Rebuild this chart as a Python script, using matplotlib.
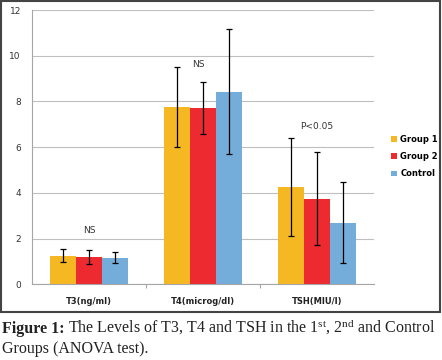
import numpy as np
import matplotlib.pyplot as plt
from matplotlib.patches import Rectangle

plt.rcParams['mathtext.fontset'] = 'custom'
plt.rcParams['mathtext.rm'] = 'Liberation Serif'
plt.rcParams['mathtext.it'] = 'Liberation Serif'

# Data
categories = ['T3(ng/ml)', 'T4(microg/dl)', 'TSH(MIU/l)']
groups = ['Group 1', 'Group 2', 'Control']
means = {
    'Group 1': [1.25, 7.75, 4.25],
    'Group 2': [1.20, 7.72, 3.75],
    'Control': [1.17, 8.42, 2.70],
}
errors = {
    'Group 1': [0.28, 1.75, 2.13],
    'Group 2': [0.30, 1.15, 2.05],
    'Control': [0.26, 2.73, 1.77],
}
sig_labels = ['NS', 'NS', 'P<0.05']
sig_y = [2.35, 9.6, 6.9]
colors = ['#F6B822', '#EC2A30', '#74ACDA']

fig = plt.figure(figsize=(4.42, 3.6), dpi=100)
ax = fig.add_axes([0.0724, 0.2103, 0.7736, 0.7619])

x = np.arange(len(categories)) + 0.5
w = 0.228
for i, g in enumerate(groups):
    ax.bar(x + (i - 1) * w, means[g], w, color=colors[i], label=g,
           yerr=errors[g], capsize=2,
           error_kw=dict(elinewidth=0.9, capthick=0.9, ecolor='black'))

for xi, lab, yy in zip(x, sig_labels, sig_y):
    ax.text(xi - (0.04 if lab == 'NS' and xi > 1 else 0), yy, lab,
            ha='center', va='center', fontsize=6.5, color='#333333')

ax.set_xlim(0, 3)
ax.set_ylim(0, 12)
ax.set_yticks(range(0, 13, 2))
ax.yaxis.grid(True, color='#BFBFBF', linewidth=0.8)
ax.set_axisbelow(True)
for s in ['top', 'right', 'left']:
    ax.spines[s].set_visible(False)
ax.spines['bottom'].set_color('#A6A6A6')
ax.tick_params(axis='y', length=0, labelsize=6.5, labelcolor='#333333', pad=8)
ax.set_xticks([1, 2])
ax.set_xticklabels([])
ax.tick_params(axis='x', length=3, color='#A6A6A6', direction='out')
for xi, c in zip(x, categories):
    ax.text(xi, -0.55, c, ha='center', va='top', fontsize=6, fontweight='bold',
            color='#222222')
ax.plot([0, 0], [0, 12], color='#A6A6A6', linewidth=0.8, clip_on=False)

fig.legend(loc='center left', bbox_to_anchor=(0.868, 0.565), frameon=False,
           prop=dict(size=6, weight='bold'), handlelength=0.7,
           handleheight=0.7, handletextpad=0.4, labelspacing=1.0)

# border around chart
fig.patches.append(Rectangle((0.003, 0.133), 0.993, 0.864, transform=fig.transFigure,
                             fill=False, edgecolor='#444444', linewidth=1.5))

# caption
cap_size = 11.5
t1 = fig.text(0.005, 0.075, 'Figure 1:', fontsize=cap_size, family='Liberation Serif',
              fontweight='bold', va='baseline', color='#222222')
fig.canvas.draw()
bb = t1.get_window_extent(fig.canvas.get_renderer()).transformed(fig.transFigure.inverted())
fig.text(bb.x1 + 0.008, 0.075,
         r'The Levels of T3, T4 and TSH in the 1$^{\rm st}$, 2$^{\rm nd}$ and Control',
         fontsize=cap_size, family='Liberation Serif', va='baseline', color='#222222')
fig.text(0.005, 0.02, 'Groups (ANOVA test).', fontsize=cap_size, family='Liberation Serif',
         va='baseline', color='#222222')

fig.savefig('out.png', dpi=100)
